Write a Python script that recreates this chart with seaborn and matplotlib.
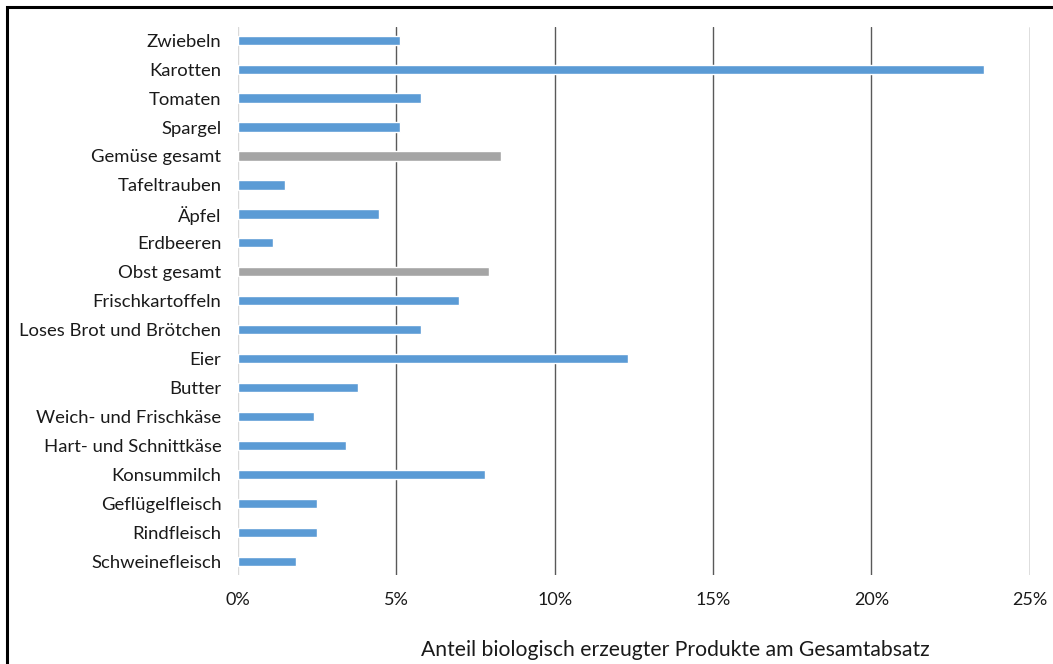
import matplotlib
matplotlib.use("Agg")
import matplotlib.pyplot as plt
import matplotlib.ticker as ticker
from matplotlib.patches import Rectangle
import seaborn as sns
import pandas as pd

categories = ["Zwiebeln", "Karotten", "Tomaten", "Spargel", "Gemüse gesamt",
              "Tafeltrauben", "Äpfel", "Erdbeeren", "Obst gesamt",
              "Frischkartoffeln", "Loses Brot und Brötchen", "Eier", "Butter",
              "Weich- und Frischkäse", "Hart- und Schnittkäse", "Konsummilch",
              "Geflügelfleisch", "Rindfleisch", "Schweinefleisch"]
shares = [5.1, 23.56, 5.78, 5.1, 8.3, 1.5, 4.45, 1.1, 7.93, 6.97, 5.78, 12.3,
          3.79, 2.4, 3.41, 7.8, 2.49, 2.48, 1.83]
totals = ["Gemüse gesamt", "Obst gesamt"]

BLUE = "#5B9BD5"
GREY = "#A5A5A5"

df = pd.DataFrame({"Produkt": categories, "Anteil": shares})
palette = {c: (GREY if c in totals else BLUE) for c in categories}

sns.set_style("white")
plt.rcParams["font.family"] = ["Lato", "DejaVu Sans"]

fig = plt.figure(figsize=(10.53, 6.64), dpi=100)
ax = fig.add_axes([0.226, 0.134, 0.752, 0.825])

sns.barplot(data=df, x="Anteil", y="Produkt", hue="Produkt", palette=palette,
            width=0.32, legend=False, ax=ax, saturation=1)

ax.set_xlim(0, 25)
ax.set_ylim(len(categories) - 0.52, -0.45)
ax.xaxis.set_major_locator(ticker.MultipleLocator(5))
ax.xaxis.set_major_formatter(ticker.FuncFormatter(lambda x, p: f"{int(x)}%"))
for x in range(5, 30, 5):
    ax.axvline(x, color="#595959", lw=1, zorder=0)
ax.axvline(0, color="#D9D9D9", lw=1, zorder=0)

for s in ax.spines.values():
    s.set_visible(False)
ax.tick_params(axis="both", length=0, colors="#1a1a1a")
ax.tick_params(axis="x", pad=12, labelsize=13)
ax.tick_params(axis="y", pad=12, labelsize=13.3)
ax.set_ylabel("")
ax.set_xlabel("Anteil biologisch erzeugter Produkte am Gesamtabsatz",
              fontsize=15.2, color="#1a1a1a")
ax.xaxis.set_label_coords(0.552, -0.118)

fig.patches.append(Rectangle((7 / 1053, -0.1), 1.2, 1 - 7 / 664 + 0.1,
                             transform=fig.transFigure, fill=False,
                             edgecolor="black", lw=2.2, clip_on=False))

fig.savefig("out.png", dpi=100)
